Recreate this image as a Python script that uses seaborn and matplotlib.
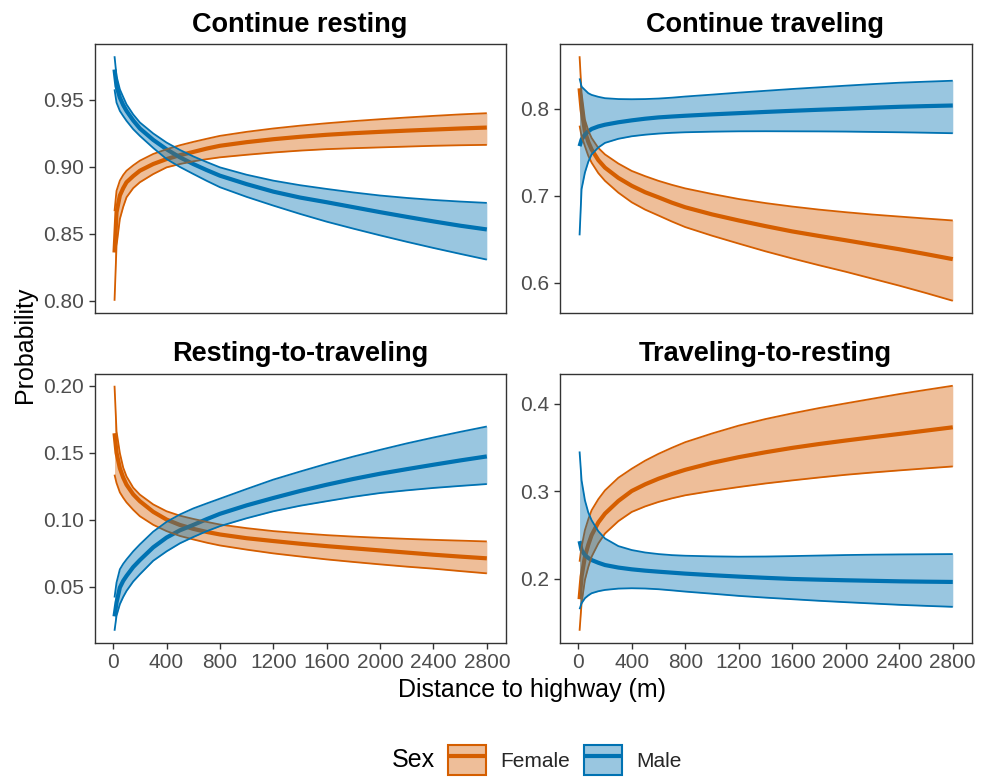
import numpy as np
import pandas as pd
import matplotlib
matplotlib.use("Agg")
import matplotlib.pyplot as plt
import seaborn as sns
from matplotlib.patches import Patch
from matplotlib.lines import Line2D
from matplotlib.legend_handler import HandlerTuple
from matplotlib.ticker import FormatStrFormatter

sns.set_theme(style="white")
plt.rcParams["font.family"] = ["Liberation Sans", "DejaVu Sans"]
plt.rcParams["lines.solid_capstyle"] = "butt"
plt.rcParams["lines.solid_joinstyle"] = "round"

# ---------------- data ----------------
distance = [10, 25, 50, 75, 100, 150, 200, 300, 400, 500, 600, 700, 800,
            1000, 1200, 1400, 1600, 1800, 2000, 2200, 2400, 2600, 2800]
panels = ["Continue resting", "Continue traveling", "Resting-to-traveling", "Traveling-to-resting"]
sexes = ["Female", "Male"]

# Continue resting
cr_f_fit = [0.836, 0.866, 0.8785, 0.884, 0.8884, 0.893, 0.897, 0.902, 0.9057, 0.9086, 0.911, 0.9135,
            0.9156, 0.9183, 0.9205, 0.9223, 0.9238, 0.925, 0.926, 0.9269, 0.9277, 0.9285, 0.9292]
cr_f_hi = [0.8668, 0.882, 0.8896, 0.8938, 0.897, 0.901, 0.9045, 0.9095, 0.913, 0.916, 0.9185, 0.9208,
           0.923, 0.926, 0.9285, 0.9306, 0.9324, 0.934, 0.9354, 0.9367, 0.9379, 0.939, 0.9399]
cr_f_lo = [0.800, 0.841, 0.861, 0.870, 0.8772, 0.884, 0.8884, 0.8945, 0.8995, 0.902, 0.904, 0.9056,
           0.907, 0.9089, 0.9106, 0.912, 0.9131, 0.9138, 0.9144, 0.915, 0.9156, 0.916, 0.9163]
cr_m_fit = [0.9725, 0.960, 0.9515, 0.946, 0.9416, 0.9345, 0.9285, 0.920, 0.913, 0.907, 0.902, 0.8975,
            0.8933, 0.887, 0.8814, 0.877, 0.8735, 0.8698, 0.8661, 0.8626, 0.8592, 0.856, 0.8532]
cr_m_hi = [0.9824, 0.9676, 0.9577, 0.952, 0.9465, 0.939, 0.933, 0.9248, 0.918, 0.9125, 0.9077, 0.9035,
           0.8995, 0.894, 0.8896, 0.8862, 0.8834, 0.8808, 0.8785, 0.8767, 0.8752, 0.874, 0.873]
cr_m_lo = [0.9577, 0.9478, 0.9416, 0.9378, 0.9342, 0.928, 0.923, 0.914, 0.9057, 0.8998, 0.8946, 0.8895,
           0.8847, 0.8775, 0.871, 0.8648, 0.859, 0.8538, 0.8488, 0.844, 0.8394, 0.835, 0.8307]

# Continue traveling
ct_f_fit = [0.8236, 0.799, 0.7741, 0.762, 0.7532, 0.741, 0.7323, 0.7205, 0.7114, 0.704, 0.6981, 0.692,
            0.6867, 0.6785, 0.6715, 0.665, 0.6589, 0.6537, 0.6487, 0.6435, 0.6384, 0.6328, 0.627]
ct_f_hi = [0.8605, 0.818, 0.7875, 0.775, 0.7665, 0.755, 0.7475, 0.737, 0.7285, 0.7225, 0.7171, 0.7125,
           0.7084, 0.702, 0.6962, 0.6915, 0.6875, 0.684, 0.681, 0.6783, 0.676, 0.6737, 0.6715]
ct_f_lo = [0.7806, 0.7684, 0.757, 0.746, 0.738, 0.726, 0.7171, 0.7035, 0.6924, 0.684, 0.6772, 0.6703,
           0.6639, 0.654, 0.6449, 0.636, 0.6278, 0.620, 0.6125, 0.6045, 0.5965, 0.588, 0.5791]
ct_m_fit = [0.757, 0.7646, 0.7703, 0.774, 0.7768, 0.7797, 0.7817, 0.7845, 0.7867, 0.7886, 0.7901, 0.7911,
            0.792, 0.7936, 0.795, 0.7964, 0.7977, 0.7989, 0.800, 0.8012, 0.8023, 0.8031, 0.8038]
ct_m_hi = [0.835, 0.8255, 0.8217, 0.818, 0.816, 0.8138, 0.8122, 0.8112, 0.811, 0.8112, 0.8118, 0.8128,
           0.8141, 0.8163, 0.8186, 0.8207, 0.8228, 0.8247, 0.8266, 0.8284, 0.830, 0.8312, 0.8323]
ct_m_lo = [0.6544, 0.7076, 0.7266, 0.739, 0.7475, 0.7555, 0.7608, 0.7655, 0.7684, 0.7702, 0.7715, 0.7724,
           0.773, 0.7737, 0.7741, 0.7742, 0.7741, 0.774, 0.7738, 0.7734, 0.773, 0.7725, 0.7719]

# Resting-to-traveling
rt_f_fit = [0.1646, 0.150, 0.1385, 0.1315, 0.1262, 0.119, 0.1139, 0.106, 0.1002, 0.0962, 0.0933, 0.091,
            0.0891, 0.0863, 0.0842, 0.0822, 0.0804, 0.0788, 0.0772, 0.0756, 0.074, 0.0726, 0.0713]
rt_f_hi = [0.200, 0.166, 0.1498, 0.139, 0.1324, 0.124, 0.1188, 0.1115, 0.1064, 0.1031, 0.1007, 0.0985,
           0.0965, 0.0938, 0.0916, 0.090, 0.0886, 0.0875, 0.0866, 0.0858, 0.0851, 0.0845, 0.0839]
rt_f_lo = [0.1337, 0.1275, 0.1205, 0.1165, 0.113, 0.1075, 0.1027, 0.0963, 0.0916, 0.088, 0.0854, 0.083,
           0.0809, 0.0778, 0.075, 0.0727, 0.0705, 0.0686, 0.0668, 0.0651, 0.0636, 0.0618, 0.0601]
rt_m_fit = [0.028, 0.0384, 0.0495, 0.0545, 0.0582, 0.0648, 0.070, 0.0795, 0.0868, 0.0922, 0.0962, 0.1005,
            0.1045, 0.1108, 0.1163, 0.1215, 0.1262, 0.1305, 0.1344, 0.1378, 0.1411, 0.1443, 0.1473]
rt_m_hi = [0.0421, 0.0532, 0.0631, 0.0672, 0.0705, 0.0765, 0.0817, 0.0912, 0.0985, 0.104, 0.1085, 0.1122,
           0.1158, 0.123, 0.130, 0.136, 0.1418, 0.1472, 0.1522, 0.157, 0.1614, 0.1656, 0.1696]
rt_m_lo = [0.0173, 0.0285, 0.0371, 0.0425, 0.047, 0.054, 0.0594, 0.0695, 0.0765, 0.0825, 0.0872, 0.0915,
           0.0953, 0.1012, 0.1064, 0.1105, 0.1139, 0.1172, 0.120, 0.122, 0.1238, 0.1253, 0.1267]

# Traveling-to-resting
tr_f_fit = [0.1769, 0.2027, 0.2254, 0.239, 0.250, 0.2645, 0.2746, 0.289, 0.3004, 0.308, 0.3144, 0.3198,
            0.3246, 0.3325, 0.339, 0.3446, 0.3496, 0.354, 0.358, 0.3618, 0.3655, 0.3693, 0.3731]
tr_f_hi = [0.2197, 0.2367, 0.2557, 0.268, 0.2784, 0.291, 0.3011, 0.3155, 0.3258, 0.335, 0.3428, 0.3497,
           0.3561, 0.366, 0.375, 0.3825, 0.389, 0.395, 0.4004, 0.4057, 0.411, 0.4158, 0.4205]
tr_f_lo = [0.1409, 0.1723, 0.1989, 0.2135, 0.2254, 0.2405, 0.2519, 0.266, 0.2765, 0.2828, 0.2879, 0.292,
           0.2955, 0.3005, 0.3049, 0.309, 0.3125, 0.3158, 0.3189, 0.3215, 0.3239, 0.3262, 0.3284]
tr_m_fit = [0.2432, 0.233, 0.2273, 0.224, 0.2216, 0.2185, 0.2159, 0.213, 0.211, 0.2095, 0.2083, 0.2072,
            0.2061, 0.2043, 0.2027, 0.2013, 0.200, 0.1992, 0.1985, 0.1979, 0.1973, 0.1969, 0.1966]
tr_m_hi = [0.3455, 0.3125, 0.2898, 0.276, 0.267, 0.2545, 0.2462, 0.2375, 0.233, 0.2302, 0.2284, 0.2272,
           0.2265, 0.2258, 0.2254, 0.2256, 0.2261, 0.2267, 0.2273, 0.2277, 0.228, 0.2282, 0.2284]
tr_m_lo = [0.1655, 0.1723, 0.178, 0.1812, 0.1837, 0.186, 0.1875, 0.189, 0.1894, 0.1891, 0.1883, 0.187,
           0.1856, 0.1832, 0.1807, 0.1787, 0.1769, 0.1751, 0.1735, 0.172, 0.1705, 0.1693, 0.1682]

x_ticks = [0, 400, 800, 1200, 1600, 2000, 2400, 2800]
y_ticks = {
    "Continue resting": [0.80, 0.85, 0.90, 0.95],
    "Continue traveling": [0.6, 0.7, 0.8],
    "Resting-to-traveling": [0.05, 0.10, 0.15, 0.20],
    "Traveling-to-resting": [0.2, 0.3, 0.4],
}
y_fmt = {
    "Continue resting": "%.2f",
    "Continue traveling": "%.1f",
    "Resting-to-traveling": "%.2f",
    "Traveling-to-resting": "%.1f",
}

series = {
    ("Continue resting", "Female"): (cr_f_fit, cr_f_lo, cr_f_hi),
    ("Continue resting", "Male"): (cr_m_fit, cr_m_lo, cr_m_hi),
    ("Continue traveling", "Female"): (ct_f_fit, ct_f_lo, ct_f_hi),
    ("Continue traveling", "Male"): (ct_m_fit, ct_m_lo, ct_m_hi),
    ("Resting-to-traveling", "Female"): (rt_f_fit, rt_f_lo, rt_f_hi),
    ("Resting-to-traveling", "Male"): (rt_m_fit, rt_m_lo, rt_m_hi),
    ("Traveling-to-resting", "Female"): (tr_f_fit, tr_f_lo, tr_f_hi),
    ("Traveling-to-resting", "Male"): (tr_m_fit, tr_m_lo, tr_m_hi),
}

rows = []
for (panel, sex), (fit, lo, hi) in series.items():
    for d, f, l, h in zip(distance, fit, lo, hi):
        rows.append(dict(panel=panel, sex=sex, dist=d, fit=f, lo=l, hi=h))
df = pd.DataFrame(rows)

palette = {"Female": "#D55E00", "Male": "#0072B2"}

# ---------------- figure ----------------
W, H = 983, 777
fig = plt.figure(figsize=(W / 100, H / 100), dpi=100)


def rect(x0, y0, x1, y1):
    return [x0 / W, 1 - y1 / H, (x1 - x0) / W, (y1 - y0) / H]


rects = {
    "Continue resting": rect(94.5, 44, 505.5, 313),
    "Continue traveling": rect(559.5, 44, 971.5, 313),
    "Resting-to-traveling": rect(94.5, 373.5, 505.5, 643),
    "Traveling-to-resting": rect(559.5, 373.5, 971.5, 643),
}

frame_col = "#333333"
tick_col = "#4D4D4D"

for i, panel in enumerate(panels):
    ax = fig.add_axes(rects[panel])
    sub = df[df.panel == panel]
    sns.lineplot(data=sub, x="dist", y="fit", hue="sex", hue_order=sexes,
                 palette=palette, linewidth=3.0, ax=ax, legend=False,
                 estimator=None, zorder=1)
    for z, sex in enumerate(sexes):
        s = sub[sub.sex == sex]
        ax.fill_between(s["dist"], s["lo"], s["hi"], color=palette[sex],
                        alpha=0.4, linewidth=0, zorder=2 + 2 * z)
        sns.lineplot(data=s, x="dist", y="lo", color=palette[sex], linewidth=1.3,
                     ax=ax, estimator=None, zorder=2.5 + 2 * z)
        sns.lineplot(data=s, x="dist", y="hi", color=palette[sex], linewidth=1.3,
                     ax=ax, estimator=None, zorder=2.5 + 2 * z)
    ax.set_xlim(-140, 2940)
    ax.margins(y=0.05)
    ax.set_xticks(x_ticks)
    ax.set_yticks(y_ticks[panel])
    ax.yaxis.set_major_formatter(FormatStrFormatter(y_fmt[panel]))
    ax.set_xlabel("")
    ax.set_ylabel("")
    ax.set_title(panel, fontsize=19.5, fontweight="bold", color="black", pad=9)
    for sp in ax.spines.values():
        sp.set_color(frame_col)
        sp.set_linewidth(1.0)
    ax.tick_params(direction="out", length=4.5, width=1.0, color=frame_col,
                   labelcolor=tick_col, labelsize=15, pad=3, left=True, bottom=True)
    if i < 2:
        ax.tick_params(axis="x", bottom=False, labelbottom=False)
    ax.grid(False)
    ax.set_facecolor("white")

fig.text(532 / W, 1 - 690 / H, "Distance to highway (m)", ha="center", va="center",
         fontsize=18, color="black")
fig.text(25 / W, 1 - 345 / H, "Probability", ha="center", va="center",
         rotation=90, fontsize=18, color="black")

# legend
fig.text(392 / W, 1 - 760 / H, "Sex", ha="left", va="center", fontsize=18, color="black")
handles = []
for sex in sexes:
    p = Patch(facecolor=matplotlib.colors.to_rgba(palette[sex], 0.4),
              edgecolor=palette[sex], linewidth=1.5)
    l = Line2D([], [], color=palette[sex], linewidth=3.0, solid_capstyle="butt")
    handles.append((p, l))
fig.legend(handles=handles, labels=sexes, ncol=2, loc="center left",
           bbox_to_anchor=(448 / W, 1 - 760 / H), frameon=False, fontsize=15,
           handlelength=1.83, handleheight=1.83, handletextpad=0.67,
           columnspacing=0.67, borderpad=0, borderaxespad=0,
           handler_map={tuple: HandlerTuple(ndivide=1)})

fig.savefig("out.png", dpi=100, facecolor="white")
